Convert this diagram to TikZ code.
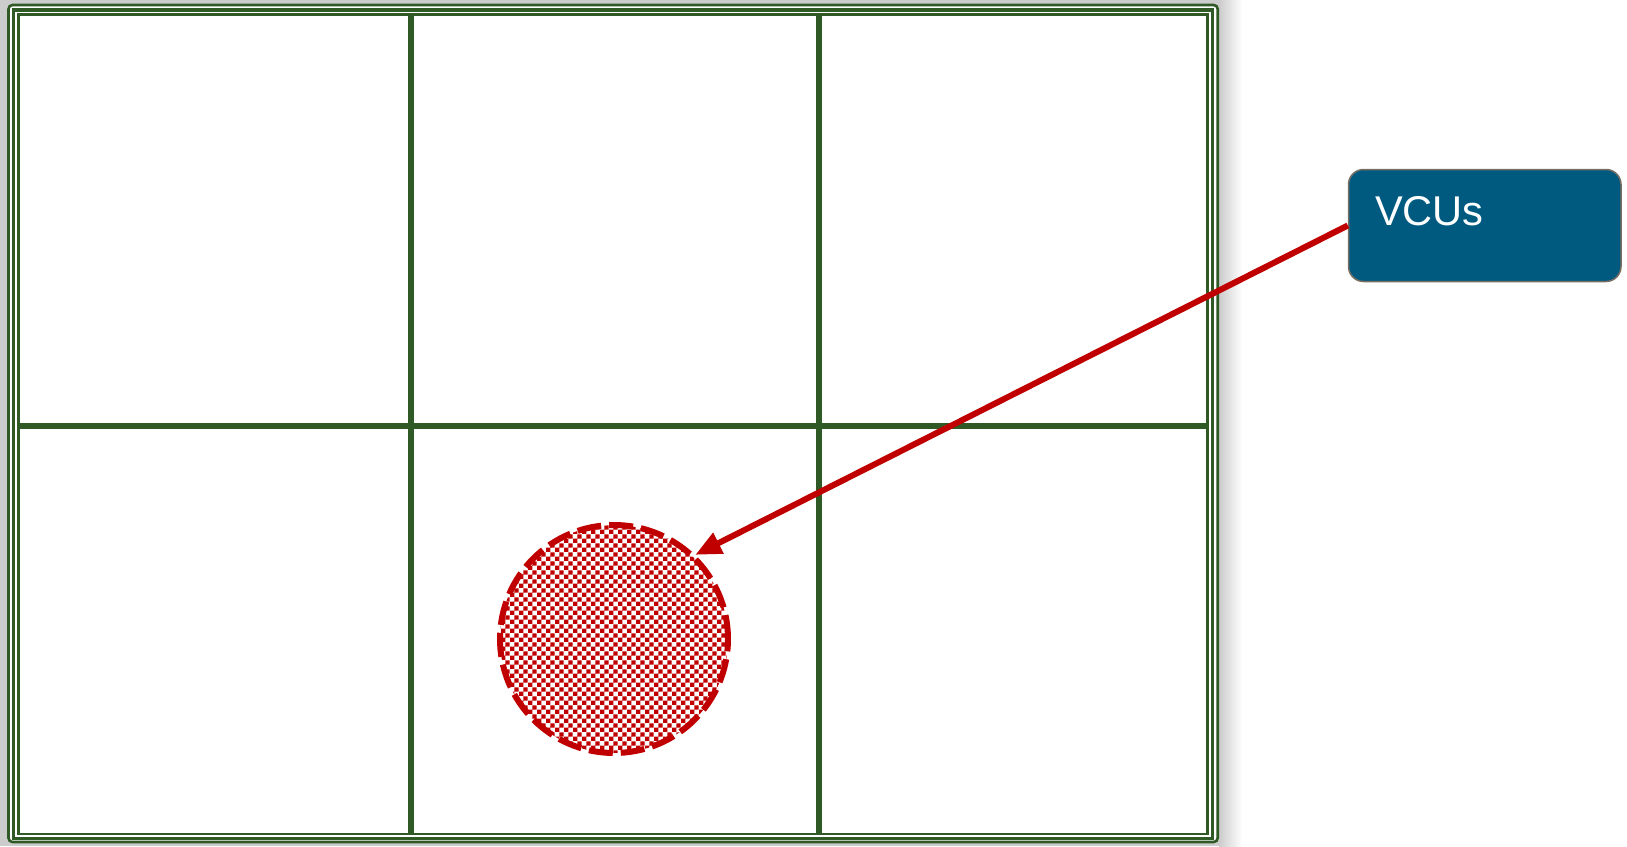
\documentclass[tikz,border=0pt]{standalone}
\usepackage{fontspec}
\setmainfont{Liberation Sans}
\usetikzlibrary{arrows.meta,patterns}

\definecolor{gridgreen}{RGB}{47,90,38}
\definecolor{vcured}{RGB}{192,0,0}
\definecolor{vcublue}{RGB}{0,90,128}
\definecolor{vcuedge}{RGB}{120,110,100}

% small red/white checks for the zone
\pgfdeclarepatternformonly{finechecks}{\pgfpointorigin}{\pgfqpoint{4.4pt}{4.4pt}}{\pgfqpoint{4.4pt}{4.4pt}}{%
  \pgfpathrectangle{\pgfpointorigin}{\pgfqpoint{2.25pt}{2.25pt}}%
  \pgfpathrectangle{\pgfqpoint{2.2pt}{2.2pt}}{\pgfqpoint{2.25pt}{2.25pt}}%
  \pgfusepath{fill}}

\begin{document}
\begin{tikzpicture}[x=0.5pt,y=-0.5pt,
			frameline/.style={draw=gridgreen, line width=1.3pt},
			gridline/.style={draw=gridgreen, line width=3pt},
			zone/.style={circle, draw=vcured, line width=3pt, dash pattern=on 12pt off 4pt,
				fill=white, postaction={pattern=finechecks, pattern color=vcured},
				minimum size=114pt, inner sep=0pt},
			callout/.style={rectangle, rounded corners=7.5pt, draw=vcuedge, line width=0.75pt,
				fill=vcublue, text=white, font=\fontsize{20.8}{24}\selectfont, align=left,
				text width=109.75pt, inner sep=13.25pt, text height=14.9pt, text depth=14.6pt},
			arrow/.style={-{Triangle[length=13pt,width=11pt]}, draw=vcured, line width=3pt}]
			
			\useasboundingbox (0,0) rectangle (1627,846);
			
			% shadow behind the frame
			\fill[black!20] (0,0) rectangle (1219,846);
			\shade[left color=black!20, right color=white] (1219,0) rectangle (1242,846);
			
			% frame
			\fill[white, rounded corners=2pt] (8.5,5) rectangle (1217.7,842);
			\draw[frameline, rounded corners=2pt] (8.5,5) rectangle (1217.7,842);
			\draw[frameline, line width=1.6pt] (13.5,10) rectangle (1212.7,838.5);
			\draw[frameline] (18.3,14.5) rectangle (1207.7,834);
			
			% grid
			\draw[gridline] (410.5,14.5) -- (410.5,834);
			\draw[gridline] (818.5,14.5) -- (818.5,834);
			\draw[gridline] (18.3,425.5) -- (1207.7,425.5);
			
			\node[zone] (zone) at (614,639) {};
			\node[callout] (vcus) at (1484.75,225.5) {VCUs};
			
			\draw[arrow] (vcus.west) -- (zone.46);
			
		\end{tikzpicture}
\end{document}
